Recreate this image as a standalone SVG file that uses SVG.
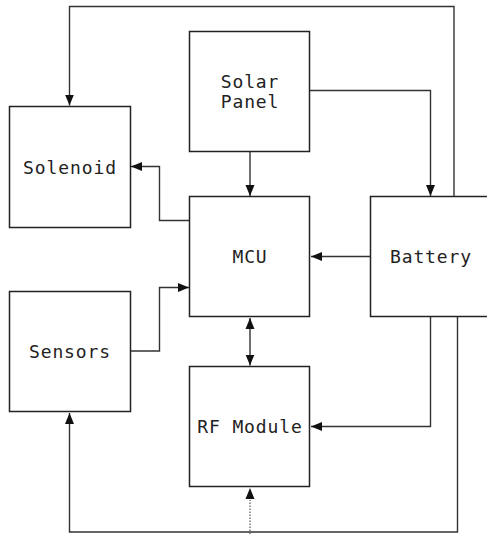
<svg xmlns="http://www.w3.org/2000/svg" width="487" height="534" viewBox="0 0 487 534">
<style>
.box{fill:#fff;stroke:#222;stroke-width:1.5}
.lbl{font-family:"DejaVu Sans Mono","Liberation Mono",monospace;font-size:18px;letter-spacing:0.9px;fill:#222;text-anchor:middle}
.ln{fill:none;stroke:#333;stroke-width:1.4}
.dot{fill:none;stroke:#555;stroke-width:1.2;stroke-dasharray:1.5,1.5}
</style>
<defs>
<marker id="ah" markerUnits="userSpaceOnUse" markerWidth="12" markerHeight="10" refX="11" refY="4.5" orient="auto">
<path d="M0,0 L11,4.5 L0,9 Z" fill="#111"/>
</marker>
<marker id="as" markerUnits="userSpaceOnUse" markerWidth="12" markerHeight="10" refX="0" refY="4.5" orient="auto">
<path d="M11,0 L0,4.5 L11,9 Z" fill="#111"/>
</marker>
</defs>
<g id="connectors">
<path class="ln" d="M454,197 V6.5 H69.5 V105.5" marker-end="url(#ah)"/>
<path class="ln" d="M310,90.5 H430.5 V196" marker-end="url(#ah)"/>
<path class="ln" d="M250,151 V196" marker-end="url(#ah)"/>
<path class="ln" d="M190,220.5 H159.5 V166.5 H131" marker-end="url(#ah)"/>
<path class="ln" d="M130,351 H159.5 V287.5 H189" marker-end="url(#ah)"/>
<path class="ln" d="M370,256.5 H311" marker-end="url(#ah)"/>
<path class="ln" d="M250,318 V365.5" marker-start="url(#as)" marker-end="url(#ah)"/>
<path class="ln" d="M430.5,317 V426.5 H311" marker-end="url(#ah)"/>
<path class="ln" d="M457.5,317 V532 H69.5 V413" marker-end="url(#ah)"/>
<path class="dot" d="M250,534 V500"/>
<path d="M250,488 L245.5,499 L254.5,499 Z" fill="#111"/>
</g>
<g id="solenoid"><rect class="box" x="9.5" y="106.5" width="121" height="121"/><text class="lbl" x="70" y="173.5">Solenoid</text></g>
<g id="solar-panel"><rect class="box" x="189.5" y="31.5" width="120" height="120"/><text class="lbl" x="250" y="87.5">Solar</text><text class="lbl" x="250" y="107.5">Panel</text></g>
<g id="mcu"><rect class="box" x="189.5" y="196.5" width="120" height="120"/><text class="lbl" x="250" y="263">MCU</text></g>
<g id="battery"><rect class="box" x="370.5" y="196.5" width="120" height="120"/><text class="lbl" x="431" y="263">Battery</text></g>
<g id="sensors"><rect class="box" x="9.5" y="291.5" width="121" height="120"/><text class="lbl" x="70" y="358">Sensors</text></g>
<g id="rf-module"><rect class="box" x="189.5" y="366.5" width="120" height="120"/><text class="lbl" x="250" y="433">RF Module</text></g>
</svg>
